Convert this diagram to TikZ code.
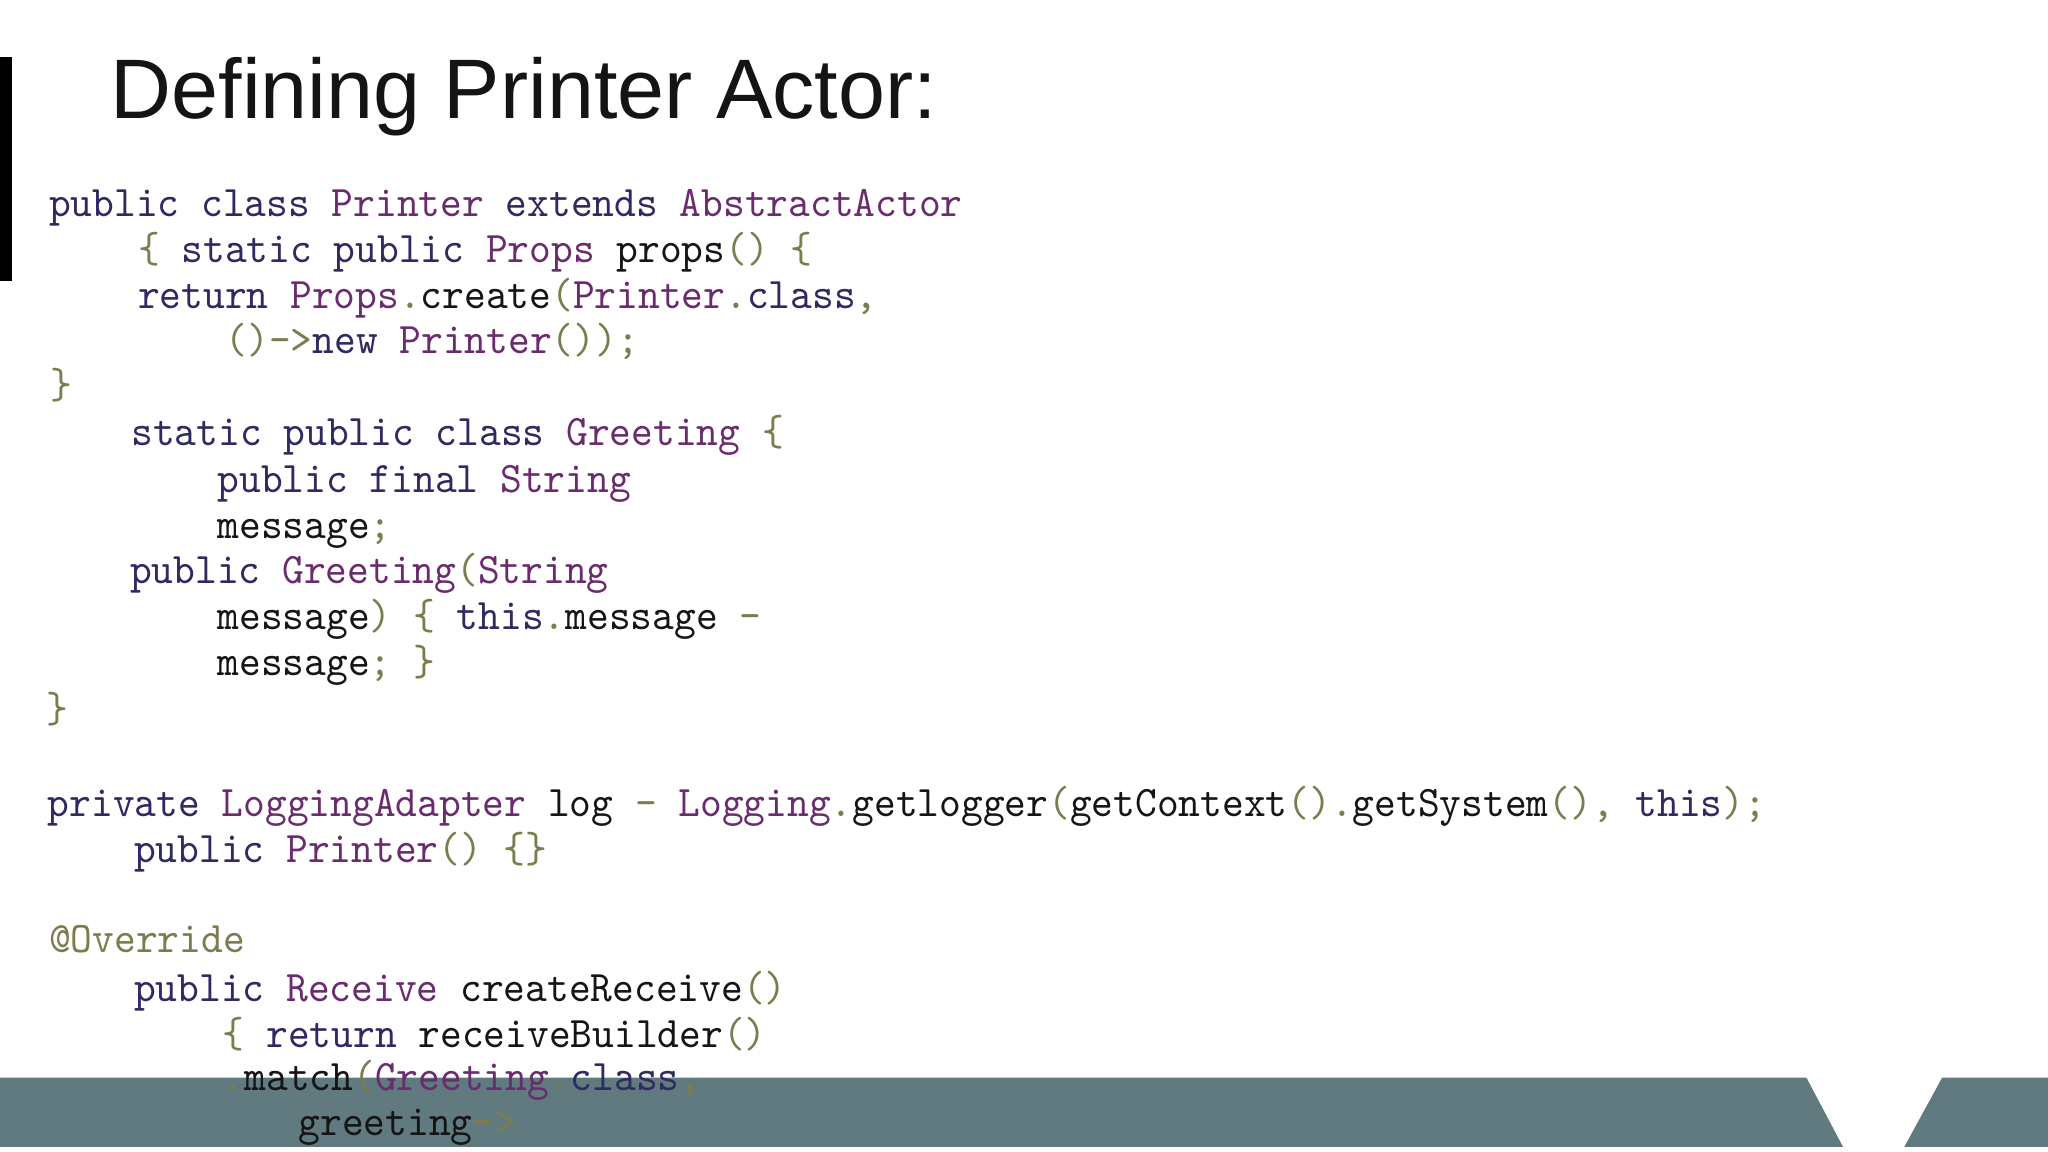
\documentclass[tikz,border=0pt]{standalone}
\usepackage{fontspec}
\setmainfont{Liberation Sans}
\definecolor{kwc}{HTML}{2E2A62}
\definecolor{tyc}{HTML}{6A2C6E}
\definecolor{puc}{HTML}{7C7C4E}
\definecolor{txc}{HTML}{151515}
\definecolor{barc}{HTML}{607A80}
\newcommand{\ck}[1]{\textcolor{kwc}{#1}}
\newcommand{\ct}[1]{\textcolor{tyc}{#1}}
\newcommand{\cp}[1]{\textcolor{puc}{#1}}
\tikzset{code/.style={anchor=base west,inner sep=0pt,xscale=0.95,text=txc,font=\ttfamily\fontsize{9.5pt}{11pt}\selectfont}}
\begin{document}
\begin{tikzpicture}[x=0.1mm,y=-0.1mm]
\useasboundingbox (0,0) rectangle (1568,882);
\fill[black] (0,44) rectangle (9,215);
\node[anchor=base west,inner sep=0pt,font=\fontsize{18.4pt}{20pt}\selectfont,text=black!92] (title) at (84,91) {Defining Printer Actor:};
\fill[barc] (0,825) -- (1383,825) -- (1411,878) -- (0,878) -- cycle;
\fill[barc] (1487,825) -- (1568,825) -- (1568,878) -- (1458,878) -- cycle;
\node[code] (l1) at (37,166) {\ck{public} \ck{class} \ct{Printer} \ck{extends} \ct{AbstractActor}};
\node[code] (l2) at (105,201) {\cp{\{} \ck{static} \ck{public} \ct{Props} props\cp{()}  \cp{\{}};
\node[code] (l3) at (105,236) {\ck{return} \ct{Props}\cp{.}create\cp{(}\ct{Printer}\cp{.}\ck{class}\cp{,}};
\node[code] (l4) at (172,271) {\cp{()}\cp{->}\ck{new} \ct{Printer}\cp{());}};
\node[code] (l5) at (38,305) {\cp{\}}};
\node[code] (l6) at (100,341) {\ck{static} \ck{public} \ck{class} \ct{Greeting} \cp{\{}};
\node[code] (l7) at (166,377) {\ck{public} \ck{final} \ct{String}};
\node[code] (l8) at (166,412) {message\cp{;}};
\node[code] (l9) at (99,447) {\ck{public} \ct{Greeting}\cp{(}\ct{String}};
\node[code] (l10) at (166,482) {message\cp{)} \cp{\{} \ck{this}\cp{.}message \cp{-}};
\node[code] (l11) at (166,517) {message\cp{;} \cp{\}}};
\node[code] (l12) at (35,553) {\cp{\}}};
\node[code] (l13) at (36,625) {\ck{private} \ct{LoggingAdapter} log \cp{-} \ct{Logging}\cp{.}getlogger\cp{(}getContext\cp{()}\cp{.}getSystem\cp{(),} \ck{this}\cp{);}};
\node[code] (l14) at (102,660) {\ck{public} \ct{Printer}\cp{()} \cp{\{\}}};
\node[code] (l15) at (37,729) {\cp{@Override}};
\node[code] (l16) at (102,767) {\ck{public} \ct{Receive} createReceive\cp{()}};
\node[code] (l17) at (170,802) {\cp{\{} \ck{return} receiveBuilder\cp{()}};
\node[code] (l18) at (170,835) {\cp{.}match\cp{(}\ct{Greeting}\cp{.}\ck{class}\cp{,}};
\node[code] (l19) at (228,869) {greeting\cp{->}};
\end{tikzpicture}
\end{document}
